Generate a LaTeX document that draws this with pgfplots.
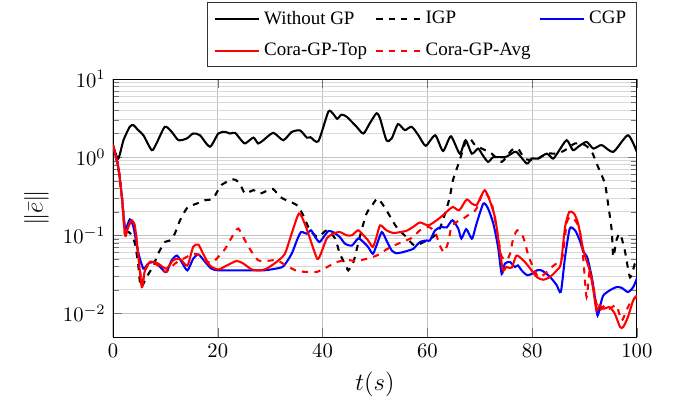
\documentclass[border=0pt]{standalone}
\usepackage{fontspec}
\setmainfont{Liberation Serif}
\usepackage{pgfplots}
\pgfplotsset{compat=1.18}

\begin{document}
\begin{tikzpicture}
\path[use as bounding box] (-54.6bp,-34.8bp) rectangle (272.5bp,162.8bp);
\begin{axis}[
  at={(0,0)}, anchor=south west,
  scale only axis, width=253.1bp, height=124.6bp,
  ymode=log, xmin=0, xmax=100, ymin=0.005, ymax=10,
  xtick={0,20,...,100},
  ytick={0.01,0.1,1,10},
  grid=both,
  major grid style={line width=0.5bp, black!24},
  minor grid style={line width=0.5bp, black!15},
  tick style={black!55},
  xlabel={\large $t(s)$},
  ylabel={\large $\|\bar{e}\|$},
  legend columns=3,
  legend style={at={(1,1.0465)}, anchor=south east, font=\fontsize{9.2}{11}\selectfont,
    draw=black!80, row sep=3.5bp, /tikz/every even column/.append style={column sep=2bp}},
  legend image code/.code={\draw[#1] (0bp,0bp) -- (21.3bp,0bp);},
  legend cell align=left,
  every axis plot/.append style={line width=1bp, smooth, tension=0.4},
]
\addplot[black] coordinates {
(0,1.40) (1.0,0.96) (2.0,1.65) (3.2,2.45) (3.9,2.57) (4.8,2.22) (5.8,1.91) (7.4,1.23)
(8.3,1.50) (9.9,2.45) (11.2,2.11) (12.5,1.65) (14.1,1.74) (15.3,2.01) (16.6,1.91) (18.5,1.36)
(20.1,2.01) (21.4,2.11) (22.3,2.01) (23.3,2.05) (24.2,1.74) (25.2,1.50) (26.8,1.78) (27.7,1.50)
(28.7,1.65) (30.6,2.05) (32.5,1.65) (34.1,2.10) (35.7,2.20) (37.0,1.78) (37.7,1.80) (39.2,1.60)
(41.1,3.81) (42.0,3.60) (42.8,3.10) (43.6,3.50) (44.6,3.30) (46.5,2.45) (47.8,2.01) (49.0,2.70)
(50.3,3.65) (51.0,3.10) (52.2,1.65) (53.2,1.74) (54.4,2.65) (55.7,2.22) (57.0,2.45) (58.3,1.91)
(59.7,1.40) (61.5,1.91) (63.0,1.20) (64.5,1.85) (66.2,1.11) (67.3,1.65) (68.5,1.11) (69.7,1.29)
(70.5,1.08) (71.6,0.87) (72.6,1.00) (74.8,1.00) (76.1,1.11) (77.0,1.17) (79.0,0.83) (79.9,0.96)
(81.2,0.96) (82.8,1.11) (84.0,0.96) (85.0,1.17) (86.6,1.65) (87.8,1.23) (88.8,1.36) (90.4,1.57)
(91.7,1.29) (93.3,1.43) (95.5,1.17) (98.3,1.91) (100,1.17)
};
\addlegendentry{Without GP}
\addplot[black, dashed] coordinates {
(0,1.40) (1.0,0.75) (1.7,0.31) (2.3,0.12) (3.0,0.11) (3.6,0.10) (4.2,0.078) (4.8,0.043)
(5.3,0.0217) (6.4,0.029) (7.7,0.041) (8.6,0.058) (9.9,0.082) (10.9,0.086) (11.8,0.105)
(12.8,0.156) (14.2,0.226) (16.0,0.255) (17.6,0.281) (19.1,0.296) (20.7,0.44) (23.0,0.52)
(24.2,0.46) (25.2,0.343) (26.8,0.378) (28.1,0.343) (29.6,0.378) (30.6,0.39) (31.9,0.31)
(33.1,0.281) (35.1,0.243) (36.3,0.181) (37.6,0.116) (39.2,0.095) (40.8,0.116) (42.4,0.091)
(43.3,0.058) (44.6,0.0393) (44.9,0.0356) (45.9,0.0455) (47.1,0.095) (48.4,0.19) (49.7,0.255)
(50.6,0.296) (52.2,0.209) (54.1,0.128) (56.0,0.095) (57.6,0.074) (59.9,0.086) (61.5,0.100)
(62.4,0.123) (63.4,0.19) (64.3,0.31) (64.9,0.51) (66.2,0.92) (67.2,1.50) (68.1,1.74)
(69.1,1.43) (70.4,1.29) (72.3,1.11) (74.2,0.87) (76.1,1.23) (77.3,1.29) (78.6,0.96)
(80.5,0.92) (82.8,1.11) (84.7,1.11) (86.3,1.23) (88.2,1.50) (90.1,1.43) (91.4,1.17)
(92.6,0.75) (93.9,0.46) (94.5,0.255) (95.2,0.116) (95.5,0.053) (96.1,0.086) (96.8,0.105)
(97.7,0.064) (98.7,0.029) (99.6,0.043) (100,0.05)
};
\addlegendentry{IGP}
\addplot[blue] coordinates {
(0,1.40) (1.0,0.75) (1.7,0.31) (2.3,0.12) (3.2,0.16) (3.9,0.128) (4.8,0.061) (5.8,0.0374)
(6.7,0.0434) (8.0,0.0455) (9.3,0.0374) (10.2,0.0338) (11.2,0.048) (12.2,0.055) (13.1,0.0455)
(14.2,0.0356) (15.3,0.050) (16.3,0.057) (17.6,0.0455) (18.8,0.0374) (20.1,0.0356) (23.0,0.0356)
(26.2,0.0356) (28.7,0.0356) (30.6,0.037) (32.5,0.040) (34.1,0.058) (35.1,0.086) (35.9,0.11)
(37.0,0.105) (37.8,0.116) (38.6,0.095) (39.4,0.082) (40.2,0.095) (41.1,0.113) (42.0,0.110)
(43.3,0.095) (44.3,0.078) (45.6,0.074) (46.8,0.091) (47.8,0.082) (48.7,0.071) (49.6,0.058)
(50.3,0.074) (51.3,0.110) (52.2,0.086) (53.2,0.064) (54.1,0.059) (55.4,0.061) (56.4,0.064)
(57.3,0.067) (58.6,0.082) (59.9,0.086) (60.5,0.086) (61.5,0.116) (62.7,0.128) (63.7,0.126)
(64.8,0.156) (65.9,0.122) (66.5,0.091) (67.4,0.120) (68.1,0.100) (68.6,0.091) (69.4,0.141)
(70.7,0.255) (71.6,0.220) (72.6,0.141) (73.5,0.071) (74.2,0.032) (74.8,0.0434) (75.8,0.0455)
(76.7,0.0393) (77.3,0.0412) (78.0,0.0356) (79.0,0.031) (79.9,0.032) (80.9,0.0356) (81.8,0.0356)
(82.8,0.032) (83.7,0.028) (84.7,0.023) (85.5,0.019) (86.3,0.053) (87.2,0.122) (88.2,0.116)
(89.1,0.086) (89.8,0.061) (90.5,0.053) (91.4,0.029) (92.0,0.016) (92.5,0.0094) (93.1,0.0133)
(93.6,0.017) (94.8,0.0197) (96.1,0.0217) (97.1,0.0213) (98.3,0.0188) (99.3,0.0217) (100,0.028)
};
\addlegendentry{CGP}
\addplot[red] coordinates {
(0,1.43) (1.0,0.75) (1.7,0.31) (2.3,0.10) (2.9,0.128) (3.6,0.156) (4.2,0.128) (4.8,0.058)
(5.5,0.0217) (6.1,0.0356) (7.1,0.046) (8.6,0.0434) (10.2,0.0374) (11.5,0.048) (12.8,0.050)
(14.2,0.041) (15.3,0.071) (16.3,0.076) (17.2,0.058) (18.5,0.041) (20.1,0.0365) (21.7,0.041)
(23.6,0.047) (24.9,0.0434) (26.5,0.0365) (28.1,0.0356) (29.3,0.0374) (31.2,0.0455) (32.8,0.058)
(34.1,0.105) (35.5,0.19) (36.6,0.141) (37.6,0.091) (39.0,0.050) (39.8,0.061) (40.8,0.091)
(42.0,0.105) (43.3,0.110) (44.6,0.100) (45.6,0.100) (46.8,0.116) (47.8,0.100) (48.7,0.086)
(49.6,0.071) (50.3,0.095) (51.0,0.134) (52.2,0.116) (53.5,0.107) (54.8,0.110) (56.0,0.114)
(57.3,0.128) (58.6,0.146) (60.2,0.134) (61.8,0.156) (63.0,0.181) (64.0,0.209) (64.9,0.231)
(66.1,0.209) (67.5,0.287) (68.5,0.255) (69.4,0.243) (70.2,0.31) (71.0,0.378) (71.9,0.281)
(72.9,0.172) (73.5,0.095) (74.4,0.0364) (75.1,0.0393) (76.1,0.0385) (77.0,0.055) (78.0,0.050)
(78.9,0.0434) (79.9,0.0356) (80.9,0.0292) (82.1,0.027) (83.4,0.0292) (84.7,0.0356) (85.5,0.0434)
(86.3,0.128) (87.1,0.199) (88.0,0.19) (88.8,0.141) (89.8,0.064) (91.0,0.0356) (91.7,0.0197)
(92.3,0.0109) (92.9,0.0127) (93.6,0.0115) (94.8,0.012) (95.8,0.0099) (96.8,0.0067) (97.4,0.0067)
(98.3,0.009) (99.3,0.0147) (100,0.017)
};
\addlegendentry{Cora-GP-Top}
\addplot[red, dashed] coordinates {
(0,1.43) (1.0,0.75) (1.7,0.31) (2.3,0.10) (2.9,0.128) (3.6,0.156) (4.2,0.128) (4.8,0.058)
(5.5,0.025) (6.2,0.036) (7.1,0.0455) (8.6,0.041) (9.9,0.034) (10.9,0.0374) (11.8,0.0434)
(13.4,0.050) (15.3,0.058) (16.6,0.055) (17.9,0.0455) (19.1,0.0455) (20.1,0.053) (21.4,0.067)
(22.7,0.095) (23.9,0.122) (25.2,0.086) (26.5,0.061) (27.7,0.048) (29.3,0.047) (31.2,0.048)
(33.1,0.041) (35.1,0.035) (37.0,0.034) (38.9,0.034) (40.8,0.039) (42.7,0.0455) (44.9,0.048)
(46.5,0.047) (48.4,0.050) (49.7,0.053) (51.0,0.058) (52.2,0.066) (54.4,0.078) (56.0,0.086)
(57.3,0.095) (58.6,0.116) (60.2,0.128) (61.5,0.110) (62.4,0.074) (63.2,0.061) (64.0,0.082)
(64.6,0.128) (65.6,0.148) (66.9,0.164) (67.8,0.181) (68.8,0.199) (69.4,0.22) (70.4,0.326)
(71.0,0.355) (72.3,0.255) (73.5,0.095) (74.2,0.053) (75.1,0.048) (75.8,0.058) (76.4,0.091)
(77.2,0.116) (78.3,0.095) (79.3,0.055) (80.2,0.039) (81.2,0.029) (82.4,0.032) (83.7,0.039)
(85.0,0.0455) (85.8,0.053) (86.6,0.141) (87.2,0.172) (88.2,0.156) (89.1,0.116) (89.8,0.048)
(90.4,0.0162) (91.0,0.0356) (91.7,0.0217) (92.3,0.0133) (92.9,0.0109) (93.9,0.0127) (94.8,0.0115)
(96.1,0.0127) (97.1,0.0081) (98.0,0.0109) (99.0,0.0147) (100,0.0162)
};
\addlegendentry{Cora-GP-Avg}
\end{axis}
\end{tikzpicture}
\end{document}
